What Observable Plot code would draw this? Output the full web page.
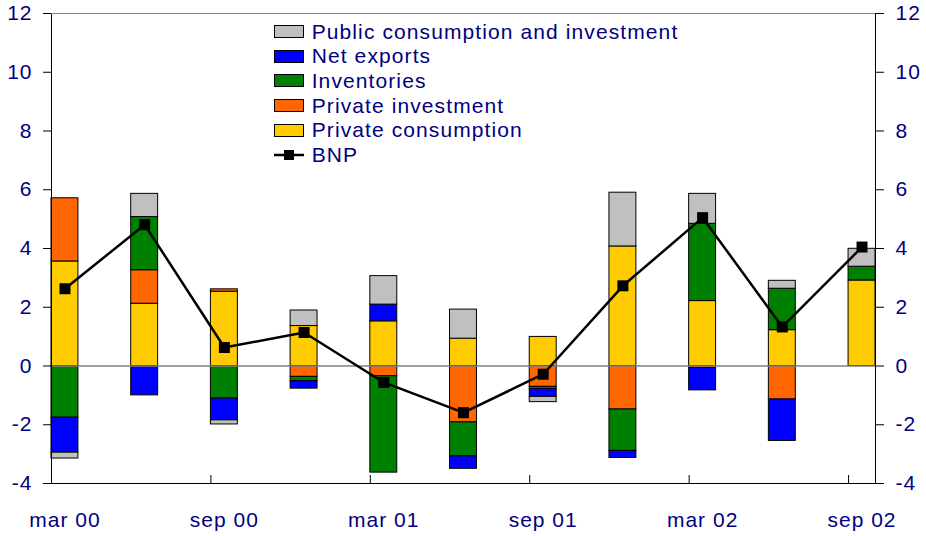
<!DOCTYPE html>
<html><head><meta charset="utf-8">
<script src="https://cdn.jsdelivr.net/npm/d3@7"></script>
<script src="https://cdn.jsdelivr.net/npm/@observablehq/plot@0.6"></script>
<style>
body{margin:0;background:#fff;}
#wrap{position:relative;width:926px;height:536px;font-family:"Liberation Sans",Arial,sans-serif;}
#legend{position:absolute;left:274px;top:19.4px;color:#000080;font-size:21px;letter-spacing:1.1px;}
.row{display:flex;align-items:center;height:24.65px;white-space:nowrap;}
.sw{width:28px;height:11px;border:1px solid #000;margin-right:7.7px;box-sizing:content-box;}
.ln{width:30px;height:14px;margin-right:7.7px;}
</style></head>
<body><div id="wrap"><div id="legend"></div></div>
<script>
const quarters = ["mar 00","jun 00","sep 00","dec 00","mar 01","jun 01","sep 01","dec 01","mar 02","jun 02","sep 02"];
const tickLabels = ["mar 00","sep 00","mar 01","sep 01","mar 02","sep 02"];
const yTicks = [-4,-2,0,2,4,6,8,10,12];
const series = ["Private consumption","Private investment","Inventories","Net exports","Public consumption and investment"];
const colors = ["#FFCC00","#FF6600","#008000","#0000FF","#C0C0C0"];
const privateConsumption = [3.56,2.12,2.53,1.36,1.52,0.93,0.99,4.07,2.21,1.22,2.91];
const privateInvestment  = [2.15,1.14,0.08,-0.37,-0.35,-1.92,-0.71,-1.48,-0.07,-1.14,0];
const inventories        = [-1.76,1.81,-1.11,-0.15,-3.28,-1.16,-0.08,-1.41,2.63,1.41,0.47];
const netExports         = [-1.19,-1.0,-0.74,-0.25,0.57,-0.42,-0.26,-0.24,-0.76,-1.41,0];
const publicCI           = [-0.2,0.79,-0.14,0.53,0.97,0.99,-0.18,1.83,1.02,0.27,0.61];
const bnp                = [2.63,4.81,0.63,1.14,-0.56,-1.59,-0.28,2.73,5.05,1.33,4.05];
const lineName = "BNP";

const navy = "#000080";
const W = 926, H = 536, mL = 51, mR = 51, mT = 13, mB = 53;
const padInner = 0.662;

const vals = [privateConsumption, privateInvestment, inventories, netExports, publicCI];
const rows = [];
quarters.forEach((q, i) => series.forEach((s, j) => {
  if (vals[j][i] !== 0) rows.push({q, s, v: vals[j][i]});
}));
const line = quarters.map((q, i) => ({q, v: bnp[i]}));

const step = (W - mL - mR) / (quarters.length - padInner);
const halfBand = step * (1 - padInner) / 2;
const yMin = yTicks[0], yMax = yTicks[yTicks.length - 1];
const tickLen = 8 * (yMax - yMin) / (H - mT - mB);
const fmt = d => String(d);

const chart = Plot.plot({
  width: W, height: H,
  marginLeft: mL, marginRight: mR, marginTop: mT, marginBottom: mB,
  style: {fontFamily: "Liberation Sans, Arial, sans-serif", fontSize: "21px", color: navy, background: "white", letterSpacing: "1px"},
  x: {type: "band", domain: quarters, paddingInner: padInner, paddingOuter: 0, round: false, axis: null, label: null},
  y: {domain: [yMin, yMax], axis: null, label: null},
  color: {domain: series, range: colors},
  marks: [
    Plot.barY(rows, {x: "q", y: "v", fill: "s", z: "s", order: series, stroke: "#000", strokeWidth: 1}),
    Plot.ruleY([0], {stroke: "#808080", strokeWidth: 1.5}),
    Plot.frame({stroke: "#000"}),
    Plot.ruleY([yMax], {stroke: "#808080"}),
    Plot.ruleX(tickLabels, {x: d => d, y1: yMin, y2: yMin + tickLen, dx: -halfBand, stroke: "#000"}),
    Plot.axisY({anchor: "left", ticks: yTicks, tickFormat: fmt, label: null, tickSize: 8, tickPadding: 11, stroke: "#000", fill: navy}),
    Plot.axisY({anchor: "right", ticks: yTicks, tickFormat: fmt, label: null, tickSize: 8, tickPadding: 12, stroke: "#000", fill: navy}),
    Plot.axisX({anchor: "bottom", ticks: tickLabels, label: null, tickSize: 0, tickPadding: 29, fill: navy}),
    Plot.line(line, {x: "q", y: "v", stroke: "#000", strokeWidth: 2.5}),
    Plot.dot(line, {x: "q", y: "v", symbol: "square", fill: "#000", stroke: "none", r: 6.2})
  ]
});
const wrap = document.getElementById("wrap");
wrap.insertBefore(chart, wrap.firstChild);

// legend (reverse stacking order, then the line)
const legend = document.getElementById("legend");
for (let j = series.length - 1; j >= 0; j--) {
  const row = document.createElement("div");
  row.className = "row";
  row.innerHTML = `<span class="sw" style="background:${colors[j]}"></span><span>${series[j]}</span>`;
  legend.appendChild(row);
}
const lrow = document.createElement("div");
lrow.className = "row";
lrow.innerHTML = `<svg class="ln" viewBox="0 0 30 14"><line x1="0" x2="30" y1="7" y2="7" stroke="#000" stroke-width="2.5"/><rect x="10" y="2" width="10" height="10" fill="#000"/></svg><span>${lineName}</span>`;
legend.appendChild(lrow);
</script>
</body></html>
